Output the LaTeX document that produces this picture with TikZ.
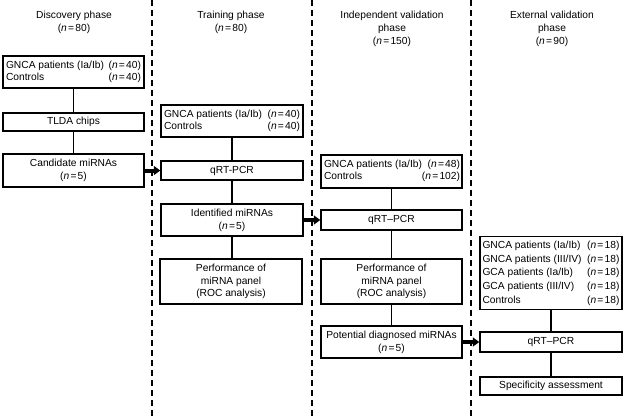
\documentclass[tikz,border=0pt]{standalone}
\usepackage{fontspec}
\setmainfont{Liberation Sans}
\usetikzlibrary{arrows.meta}
\newcommand{\nn}[1]{(\textit{n}\hspace{0.12em}=\hspace{0.12em}#1)}
\newcommand{\tworow}[3]{{\renewcommand{\arraystretch}{#1}\begin{tabular*}{#2}{@{}l@{\extracolsep{\fill}}r@{}}#3\end{tabular*}}}
\begin{document}
\begin{tikzpicture}[x=1pt,y=-1pt,
  every node/.style={font=\fontsize{10.25}{12.8}\selectfont},
  box/.style={draw, line width=1.4pt, inner sep=2pt, align=center},
  head/.style={align=center, inner sep=0pt, anchor=north},
  link/.style={line width=1.4pt},
  bigarrow/.style={line width=4pt, -{Triangle[length=6.5pt,width=9pt]}},
  phase/.style={line width=1.5pt, dash pattern=on 5.5pt off 4.5pt}]
\useasboundingbox (0,0) rectangle (625,418);

% phase transfer arrows (under the separators)
\coordinate (dummy) at (0,0);

% headers
\node[head] (h1) at (74,11) {Discovery phase\\\nn{80}};
\node[head] (h2) at (231,11) {Training phase\\\nn{80}};
\node[head] (h3) at (392,11) {Independent validation\\phase\\\nn{150}};
\node[head] (h4) at (552,11) {External validation\\phase\\\nn{90}};

% discovery
\node[box, minimum width=141, minimum height=32] (d1) at (73.5,72)
  {\tworow{0.92}{135pt}{GNCA patients (Ia/Ib) & \nn{40}\\ Controls & \nn{40}}};
\node[box, minimum width=141, minimum height=18] (d2) at (73.5,122) {TLDA chips};
\node[box, minimum width=141, minimum height=33] (d3) at (73.5,170.5) {Candidate miRNAs\\\nn{5}};

% training
\node[box, minimum width=142, minimum height=32] (t1) at (232,121)
  {\tworow{0.92}{136pt}{GNCA patients (Ia/Ib) & \nn{40}\\ Controls & \nn{40}}};
\node[box, minimum width=142, minimum height=19] (t2) at (232,170.5) {qRT-PCR};
\node[box, minimum width=142, minimum height=32] (t3) at (232,220) {Identified miRNAs\\\nn{5}};
\node[box, minimum width=142, minimum height=45] (t4) at (231,281.5) {Performance of\\miRNA panel\\(ROC analysis)};

% independent validation
\node[box, minimum width=141, minimum height=33] (v1) at (391.5,171.5)
  {\tworow{0.92}{135pt}{GNCA patients (Ia/Ib) & \nn{48}\\ Controls & \nn{102}}};
\node[box, minimum width=141, minimum height=20] (v2) at (391.5,220) {qRT--PCR};
\node[box, minimum width=141, minimum height=45] (v3) at (391.5,281.5) {Performance of\\miRNA panel\\(ROC analysis)};
\node[box, minimum width=141, minimum height=32] (v4) at (391.5,342) {Potential diagnosed miRNAs\\\nn{5}};

% external validation
\node[box, minimum width=142, minimum height=72] (e1) at (551,273)
  {\tworow{1.07}{137pt}{GNCA patients (Ia/Ib) & \nn{18}\\ GNCA patients (III/IV) & \nn{18}\\ GCA patients (Ia/Ib) & \nn{18}\\ GCA patients (III/IV) & \nn{18}\\ Controls & \nn{18}}};
\node[box, minimum width=142, minimum height=20] (e2) at (551,342) {qRT--PCR};
\node[box, minimum width=142, minimum height=18] (e3) at (551,386) {Specificity assessment};

% vertical links
\draw[link] (d1) -- (d2);
\draw[link] (d2) -- (d3);
\draw[link] (t1) -- (t2);
\draw[link] (t2) -- (t3);
\draw[link] (t3.south) -- (t3.south |- t4.north);
\draw[link] (v1) -- (v2);
\draw[link] (v2) -- (v3);
\draw[link] (v3) -- (v4);
\draw[link] (e1) -- (e2);
\draw[link] (e2) -- (e3);

% phase transfer arrows
\draw[bigarrow] (d3.east) -- (t2.west);
\draw[bigarrow] (t3.east) -- (v2.west);
\draw[bigarrow] (v4.east) -- (e2.west);

% phase separators
\coordinate (s1t) at (152,0);   \coordinate (s1b) at (152,418);
\coordinate (s2t) at (312,0);   \coordinate (s2b) at (312,418);
\coordinate (s3t) at (471,0);   \coordinate (s3b) at (471,418);
\draw[phase] (s1t) -- (s1b);
\draw[phase] (s2t) -- (s2b);
\draw[phase] (s3t) -- (s3b);
\end{tikzpicture}
\end{document}
